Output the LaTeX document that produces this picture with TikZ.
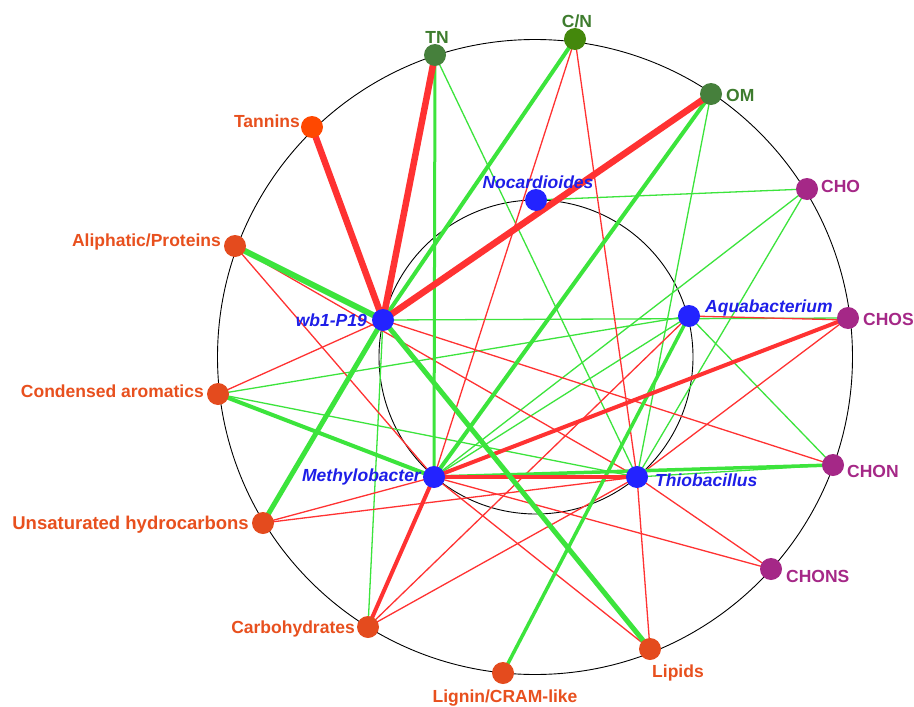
\documentclass[tikz,border=0pt]{standalone}
\usepackage{fontspec}
\setmainfont{Liberation Sans}
\definecolor{egreen}{RGB}{60,228,60}
\definecolor{ered}{RGB}{255,50,50}
\definecolor{gnode}{RGB}{70,128,60}
\definecolor{gnodeb}{RGB}{68,136,12}
\definecolor{gtext}{RGB}{62,124,46}
\definecolor{onode}{RGB}{228,75,30}
\definecolor{onodeb}{RGB}{255,72,0}
\definecolor{otext}{RGB}{232,80,30}
\definecolor{pnode}{RGB}{165,40,135}
\definecolor{bnode}{RGB}{35,35,255}
\definecolor{btext}{RGB}{30,30,232}
\begin{document}
\begin{tikzpicture}[x=1pt,y=-1pt,
  dot/.style={circle,inner sep=0pt,minimum size=22pt,draw=none},
  lab/.style={inner sep=0pt,font=\fontsize{17.5}{20}\selectfont\bfseries},
  blab/.style={inner sep=0pt,font=\fontsize{17.5}{20}\selectfont\bfseries\itshape,text=btext},
  gthin/.style={draw=egreen,line width=1.3pt},
  rthin/.style={draw=ered,line width=1.3pt},
  gmed/.style={draw=egreen,line width=#1},
  rmed/.style={draw=ered,line width=#1},
  ring/.style={draw=black,line width=0.9pt}
]
\useasboundingbox (0,0) rectangle (914,707);
\fill[white] (0,0) rectangle (914,707);
% circles
\draw[ring] (535,357) circle[radius=317.5];
\draw[ring] (536,357) circle[radius=157];
% node coordinates
\coordinate (tan) at (312,127);
\coordinate (tn) at (435,55);
\coordinate (cn) at (575,39);
\coordinate (om) at (711,94);
\coordinate (cho) at (807,189);
\coordinate (chos) at (848,318);
\coordinate (chon) at (833,465);
\coordinate (chons) at (771,569);
\coordinate (lip) at (650,649);
\coordinate (lig) at (503,673);
\coordinate (carb) at (368,627);
\coordinate (unsat) at (263,523);
\coordinate (cond) at (218,394);
\coordinate (ali) at (235,246);
\coordinate (noc) at (536,200);
\coordinate (aqua) at (689,316);
\coordinate (wb) at (383,320);
\coordinate (meth) at (434,477);
\coordinate (thio) at (637,477);
% thin green edges
\draw[gthin] (tn) -- (thio);
\draw[gthin] (om) -- (thio);
\draw[gthin] (cho) -- (noc);
\draw[gthin] (cho) -- (meth);
\draw[gthin] (cho) -- (thio);
\draw[gthin] (wb) -- (chos);
\draw[gthin] (cond) -- (aqua);
\draw[gthin] (cond) -- (thio);
\draw[gthin] (aqua) -- (chon);
\draw[gthin] (aqua) -- (meth);
\draw[gthin] (wb) -- (carb);
\draw[gthin] (thio) -- (chon);
% thin red edges
\draw[rthin] (cn) -- (meth);
\draw[rthin] (cn) -- (thio);
\draw[rthin] (aqua) -- ([yshift=-2pt]chos);
\draw[rthin] (chos) -- (thio);
\draw[rthin] (ali) -- (meth);
\draw[rthin] (ali) -- (thio);
\draw[rthin] (cond) -- (wb);
\draw[rthin] (wb) -- (chon);
\draw[rthin] (meth) -- (unsat);
\draw[rthin] (unsat) -- (thio);
\draw[rthin] (meth) -- (chons);
\draw[rthin] (thio) -- (chons);
\draw[rthin] (meth) -- (lip);
\draw[rthin] (thio) -- (lip);
\draw[rthin] (carb) -- (thio);
\draw[rthin] (carb) -- (aqua);
% medium edges
\draw[gmed=4pt] (cn) -- (wb);
\draw[gmed=4pt] (om) -- (meth);
\draw[gmed=3pt] (tn) -- (meth);
\draw[gmed=4pt] (cond) -- (meth);
\draw[gmed=3.5pt] (meth) -- (chon);
\draw[gmed=3.5pt] (aqua) -- (lig);
\draw[rmed=4pt] (chos) -- (meth);
\draw[rmed=4pt] (meth) -- (carb);
\draw[rmed=4pt] (meth) -- (thio);
% thick edges
\draw[gmed=6pt] (wb) -- (ali);
\draw[gmed=5pt] (wb) -- (lip);
\draw[gmed=5pt] (wb) -- (unsat);
\draw[rmed=6.5pt] (tan) -- (wb);
\draw[rmed=6.5pt] (tn) -- (wb);
\draw[rmed=6.5pt] (om) -- (wb);
% nodes
\node[dot,fill=onodeb] (nTan) at (tan) {};
\node[dot,fill=gnode] (nTN) at (tn) {};
\node[dot,fill=gnodeb] (nCN) at (cn) {};
\node[dot,fill=gnode] (nOM) at (om) {};
\node[dot,fill=pnode] (nCHO) at (cho) {};
\node[dot,fill=pnode] (nCHOS) at (chos) {};
\node[dot,fill=pnode] (nCHON) at (chon) {};
\node[dot,fill=pnode] (nCHONS) at (chons) {};
\node[dot,fill=onode] (nLip) at (lip) {};
\node[dot,fill=onode] (nLig) at (lig) {};
\node[dot,fill=onode] (nCarb) at (carb) {};
\node[dot,fill=onode] (nUnsat) at (unsat) {};
\node[dot,fill=onode] (nCond) at (cond) {};
\node[dot,fill=onode] (nAli) at (ali) {};
\node[dot,fill=bnode] (nNoc) at (noc) {};
\node[dot,fill=bnode] (nAqua) at (aqua) {};
\node[dot,fill=bnode] (nWb) at (wb) {};
\node[dot,fill=bnode] (nMeth) at (meth) {};
\node[dot,fill=bnode] (nThio) at (thio) {};
% labels
\node[lab,text=gtext,anchor=base] (lTN) at (437,43) {TN};
\node[lab,text=gtext,anchor=base] (lCN) at (577,27) {C/N};
\node[lab,text=gtext,anchor=base west] (lOM) at (726,101) {OM};
\node[lab,text=pnode,anchor=base west] (lCHO) at (821,192) {CHO};
\node[lab,text=pnode,anchor=base west] (lCHOS) at (863,325) {CHOS};
\node[lab,text=pnode,anchor=base west] (lCHON) at (847,477) {CHON};
\node[lab,text=pnode,anchor=base west] (lCHONS) at (786,582) {CHONS};
\node[lab,text=otext,anchor=base west] (lLip) at (652,677.5) {Lipids};
\node[lab,text=otext,anchor=base] (lLig) at (505,702) {Lignin/CRAM-like};
\node[lab,text=otext,anchor=base east] (lCarb) at (355,633) {Carbohydrates};
\node[lab,text=otext,anchor=base east,font=\fontsize{18.5}{20}\selectfont\bfseries] (lUnsat) at (249,529) {Unsaturated hydrocarbons};
\node[lab,text=otext,anchor=base east] (lCond) at (204,397) {Condensed aromatics};
\node[lab,text=otext,anchor=base east] (lAli) at (221,246) {Aliphatic/Proteins};
\node[lab,text=otext,anchor=base east] (lTan) at (300,127.5) {Tannins};
\node[blab,anchor=base] (lNoc) at (538,188) {Nocardioides};
\node[blab,anchor=base west] (lAqua) at (705,312.5) {Aquabacterium};
\node[blab,anchor=base east] (lWb) at (367,326) {wb1-P19};
\node[blab,anchor=base east] (lMeth) at (421,481) {Methylobacter};
\node[blab,anchor=base west] (lThio) at (655,486) {Thiobacillus};
\end{tikzpicture}
\end{document}
